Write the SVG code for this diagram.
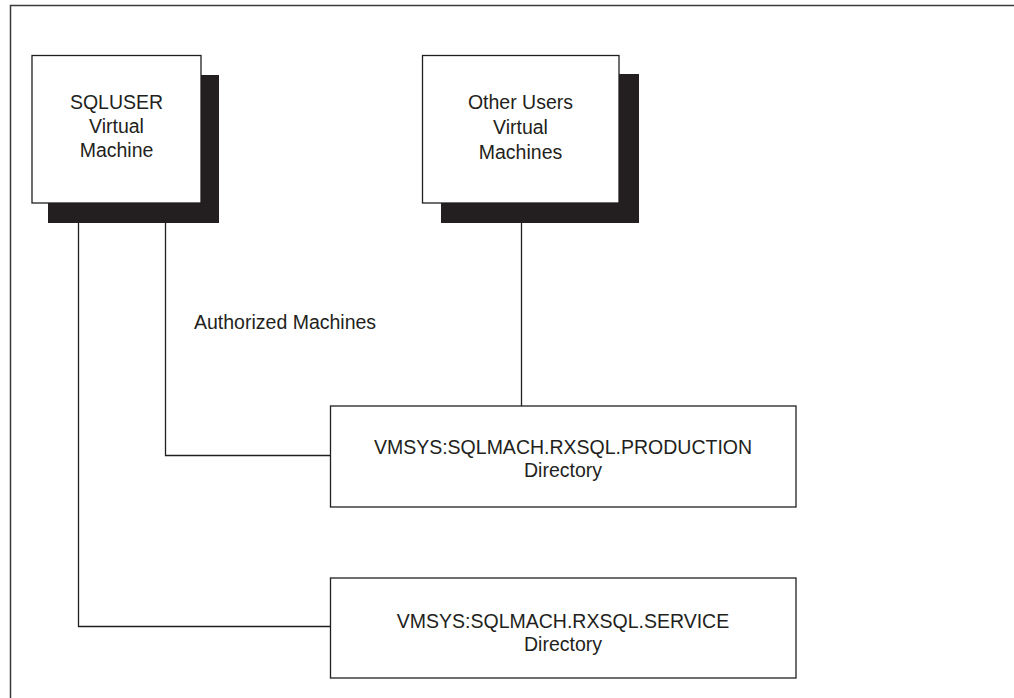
<svg xmlns="http://www.w3.org/2000/svg" width="1014" height="698" viewBox="0 0 1014 698">
<style>
.frame{fill:none;stroke:#3a3a3a;stroke-width:1.5}
.box{fill:#fff;stroke:#231f20;stroke-width:1.3}
.shadow{fill:#231f20}
.conn{fill:none;stroke:#231f20;stroke-width:1.3}
text{font-family:"Liberation Sans",Arial,sans-serif;font-size:19.5px;fill:#231f20}
.c{text-anchor:middle}
</style>
<rect width="1014" height="698" fill="#fff"/>
<path class="frame" d="M10.5,698 V5.5 H1014"/>
<g id="connectors">
<path class="conn" d="M78.5,223 V626.5 H330"/>
<path class="conn" d="M165.5,223 V455.5 H330"/>
<path class="conn" d="M521.5,223 V406"/>
<text x="194" y="329">Authorized Machines</text>
</g>
<g id="sqluser">
<rect class="shadow" x="48" y="75" width="171" height="148"/>
<rect class="box" x="32" y="55.5" width="169" height="147.5"/>
<text class="c" x="116.5" y="108.5">SQLUSER</text>
<text class="c" x="116.5" y="133">Virtual</text>
<text class="c" x="116.5" y="157">Machine</text>
</g>
<g id="otherusers">
<rect class="shadow" x="441" y="74" width="198" height="149"/>
<rect class="box" x="422.5" y="55.5" width="196.5" height="147.5"/>
<text class="c" x="520.5" y="108.5">Other Users</text>
<text class="c" x="520.5" y="134">Virtual</text>
<text class="c" x="520.5" y="159">Machines</text>
</g>
<g id="production">
<rect class="box" x="330.5" y="406" width="465.5" height="101"/>
<text class="c" x="563" y="453.5">VMSYS:SQLMACH.RXSQL.PRODUCTION</text>
<text class="c" x="563" y="477">Directory</text>
</g>
<g id="service">
<rect class="box" x="330.5" y="578" width="465.5" height="100"/>
<text class="c" x="563" y="627.5">VMSYS:SQLMACH.RXSQL.SERVICE</text>
<text class="c" x="563" y="650.5">Directory</text>
</g>
</svg>
